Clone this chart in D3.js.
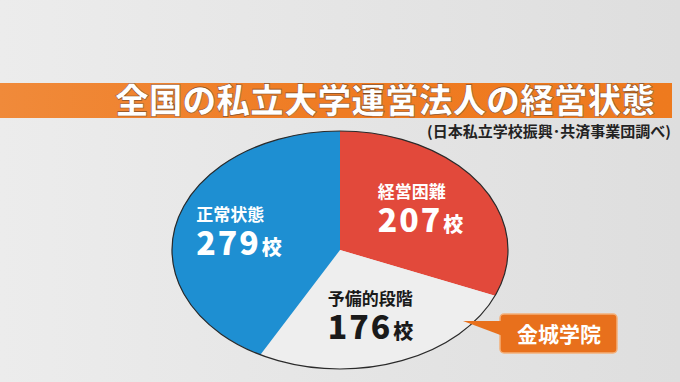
<!DOCTYPE html>
<html>
<head>
<meta charset="utf-8">
<script src="https://cdn.jsdelivr.net/npm/d3@7"></script>
<style>
  html, body { margin: 0; padding: 0; background: #e4e4e4; }
  svg { display: block; font-family: "Noto Sans CJK JP", "Noto Sans", sans-serif; }
</style>
</head>
<body>
<div id="chart"></div>
<script>
// datos del grafico
const categories = ["経営困難", "予備的段階", "正常状態"];
const values = [207, 176, 279];
const unit = "校";
const sliceColors = ["#e2493b", "#eeeeee", "#1e8fd2"];
const labelColors = ["#ffffff", "#1a1a1a", "#ffffff"];

const title = "全国の私立大学運営法人の経営状態";
const source = "(日本私立学校振興･共済事業団調べ)";
const callout = "金城学院";

const width = 680;
const height = 382;

const svg = d3.select("#chart")
  .append("svg")
  .attr("width", width)
  .attr("height", height);

// fondo gris claro
const defs = svg.append("defs");
const bg = defs.append("linearGradient").attr("id", "bg").attr("x1", 0).attr("x2", 1);
bg.append("stop").attr("offset", 0).attr("stop-color", "#ececec");
bg.append("stop").attr("offset", 1).attr("stop-color", "#dedede");
svg.append("rect").attr("width", width).attr("height", height).attr("fill", "url(#bg)");

// banda naranja del titulo
const band = defs.append("linearGradient").attr("id", "band").attr("x1", 0).attr("x2", 1);
band.append("stop").attr("offset", 0).attr("stop-color", "#f08a3a");
band.append("stop").attr("offset", 0.5).attr("stop-color", "#ef7b22");
band.append("stop").attr("offset", 1).attr("stop-color", "#ee7a1e");
svg.append("rect")
  .attr("x", 0).attr("y", 83)
  .attr("width", 672).attr("height", 35)
  .attr("fill", "url(#band)");

svg.append("text")
  .attr("x", 655).attr("y", 113)
  .attr("text-anchor", "end")
  .attr("font-size", 34)
  .attr("font-weight", 900)
  .attr("fill", "#ffffff")
  .attr("stroke", "#8a4a1a")
  .attr("stroke-width", 0.6)
  .attr("textLength", 540)
  .attr("lengthAdjust", "spacingAndGlyphs")
  .text(title);

svg.append("text")
  .attr("x", 671).attr("y", 137)
  .attr("text-anchor", "end")
  .attr("font-size", 14.5)
  .attr("font-weight", 700)
  .attr("fill", "#222222")
  .attr("textLength", 244)
  .attr("lengthAdjust", "spacingAndGlyphs")
  .text(source);

// grafica de tarta eliptica
const cx = 340, cy = 250, rx = 168, ry = 119;

const pie = d3.pie().sort(null).value((d) => d);
const arcs = pie(values);
const arc = d3.arc().innerRadius(0).outerRadius(1);
const labelArc = d3.arc().innerRadius(0.6).outerRadius(0.6);

const gPie = svg.append("g")
  .attr("transform", `translate(${cx},${cy}) scale(${rx},${ry})`);

gPie.selectAll("path")
  .data(arcs)
  .join("path")
  .attr("d", arc)
  .attr("fill", (d, i) => sliceColors[i]);

gPie.append("ellipse")
  .attr("rx", 1).attr("ry", 1)
  .attr("fill", "none")
  .attr("stroke", "#2a2a2a")
  .attr("stroke-width", 1.2)
  .attr("vector-effect", "non-scaling-stroke");

// etiquetas
const labels = svg.append("g")
  .selectAll("g")
  .data(arcs)
  .join("g")
  .attr("transform", (d) => {
    const [lx, ly] = labelArc.centroid(d);
    return `translate(${cx + lx * rx - 46},${cy + ly * ry})`;
  });

labels.append("text")
  .attr("y", -12)
  .attr("font-size", 17)
  .attr("font-weight", 700)
  .attr("fill", (d, i) => labelColors[i])
  .text((d, i) => categories[i]);

const num = labels.append("text")
  .attr("y", 22)
  .attr("font-weight", 900)
  .attr("fill", (d, i) => labelColors[i]);
num.append("tspan")
  .attr("font-size", 32)
  .attr("letter-spacing", 2)
  .text((d) => d.value);
num.append("tspan")
  .attr("font-size", 20)
  .attr("dx", 1)
  .text(unit);

// globo naranja
const gCall = svg.append("g");
gCall.append("rect")
  .attr("x", 500).attr("y", 314)
  .attr("width", 117).attr("height", 39)
  .attr("rx", 4)
  .attr("fill", "#e8701c")
  .attr("stroke", "#f4b07a")
  .attr("stroke-width", 1.5);
gCall.append("path")
  .attr("d", "M463,321 L503,321 L503,336 Z")
  .attr("fill", "#e8701c");
gCall.append("text")
  .attr("x", 559).attr("y", 342)
  .attr("text-anchor", "middle")
  .attr("font-size", 21)
  .attr("font-weight", 700)
  .attr("fill", "#ffffff")
  .text(callout);
</script>
</body>
</html>
